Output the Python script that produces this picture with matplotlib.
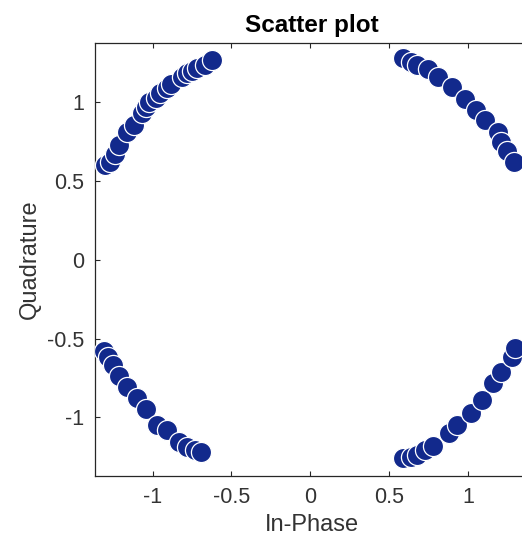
import matplotlib
matplotlib.use("Agg")
import matplotlib.pyplot as plt

# received symbols (in-phase, quadrature)
ul_i = [-1.30, -1.27, -1.24, -1.21, -1.16, -1.12, -1.07, -1.04, -1.02, -0.98,
        -0.95, -0.91, -0.88, -0.81, -0.78, -0.75, -0.72, -0.67, -0.62]
ul_q = [0.60, 0.62, 0.67, 0.73, 0.81, 0.86, 0.93, 0.97, 1.00, 1.03,
        1.06, 1.09, 1.12, 1.16, 1.19, 1.20, 1.22, 1.24, 1.27]

ur_i = [0.59, 0.64, 0.68, 0.75, 0.81, 0.90, 0.98, 1.05, 1.11, 1.19, 1.21, 1.25, 1.29]
ur_q = [1.28, 1.26, 1.24, 1.21, 1.16, 1.10, 1.02, 0.95, 0.89, 0.81, 0.75, 0.69, 0.62]

ll_i = [-1.31, -1.28, -1.25, -1.21, -1.16, -1.10, -1.04, -0.97, -0.91, -0.83, -0.78, -0.73, -0.69]
ll_q = [-0.58, -0.62, -0.67, -0.74, -0.81, -0.88, -0.95, -1.05, -1.08, -1.16, -1.19, -1.21, -1.22]

lr_i = [0.59, 0.64, 0.68, 0.73, 0.78, 0.88, 0.93, 1.02, 1.09, 1.16, 1.21, 1.28, 1.30]
lr_q = [-1.26, -1.25, -1.24, -1.21, -1.18, -1.10, -1.05, -0.97, -0.89, -0.78, -0.71, -0.62, -0.56]

ticks = [-1, -0.5, 0, 0.5, 1]
tick_labels = ["-1", "-0.5", "0", "0.5", "1"]

plt.rcParams["font.family"] = ["Liberation Sans", "DejaVu Sans"]

fig = plt.figure(figsize=(5.22, 5.42), dpi=100)
# right edge of the box sits just past the figure, as in the source screenshot
ax = fig.add_axes([0.182, 0.1218, 0.832, 0.7989])

marker_color = "#12298c"
for xs, ys in [(ul_i, ul_q), (ur_i, ur_q), (ll_i, ll_q), (lr_i, lr_q)]:
    ax.scatter(xs, ys, s=210, c=marker_color, edgecolors="white", linewidths=0.9, zorder=3)

ax.set_xlim(-1.365, 1.39)
ax.set_ylim(-1.373, 1.378)
ax.set_xticks(ticks)
ax.set_xticklabels(tick_labels)
ax.set_yticks(ticks)
ax.set_yticklabels(tick_labels)
ax.tick_params(direction="in", length=3.8, width=0.8, top=True, right=True,
               labelsize=15.5, labelcolor="#333333", color="#262626", pad=8)
for sp in ax.spines.values():
    sp.set_color("#262626")
    sp.set_linewidth(0.9)

ax.set_title("Scatter plot", fontsize=17.5, fontweight="bold", pad=8)
ax.set_xlabel("In-Phase", fontsize=17, color="#333333", labelpad=4)
ax.set_ylabel("Quadrature", fontsize=17, color="#333333", labelpad=4)

fig.savefig("out.png", dpi=100)
